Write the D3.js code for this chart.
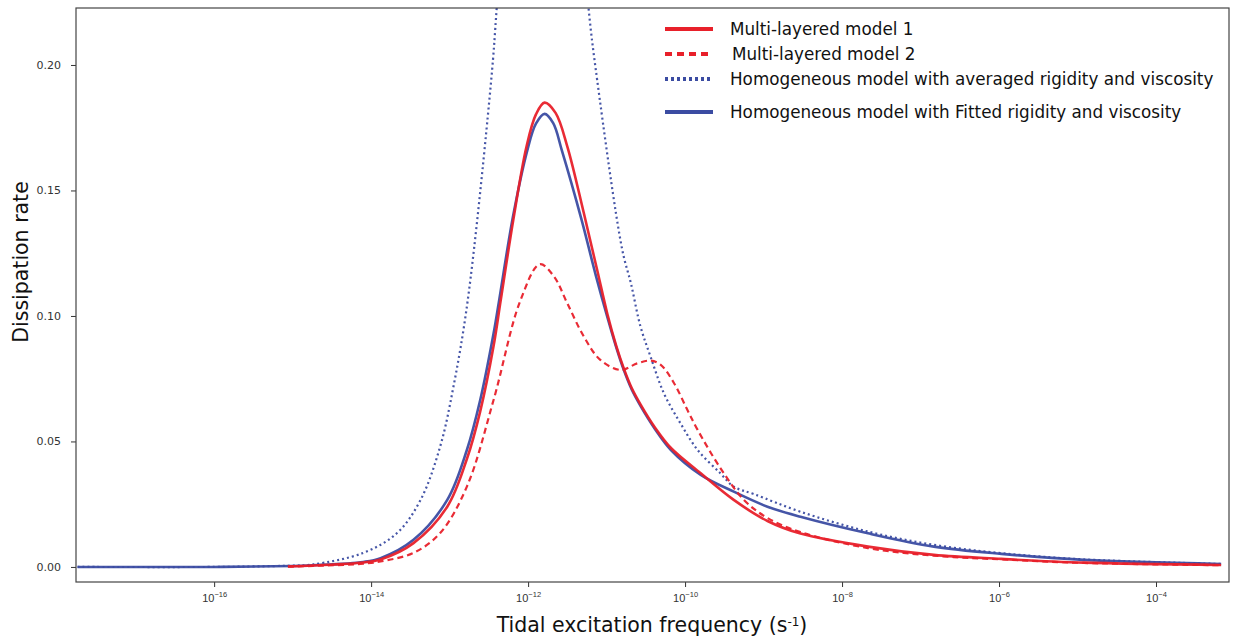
<!DOCTYPE html>
<html>
<head>
<meta charset="utf-8">
<script src="https://cdn.jsdelivr.net/npm/d3@7"></script>
<style>
  body { margin: 0; background: #fff; }
  svg { font-family: 'DejaVu Sans', sans-serif; }
</style>
</head>
<body>
<script>
// exponents (log10 of frequency) and dissipation rate for each curve
const model1Exp = [-15.06, -14.74, -14.10, -13.88, -13.46, -13.03, -12.78, -12.61, -12.44, -12.35, -12.19, -12.02, -11.90, -11.79, -11.65, -11.50, -11.29, -11.12, -10.99, -10.88, -10.78, -10.68, -10.57, -10.38, -10.18, -9.80, -9.38, -8.95, -8.53, -7.67, -6.83, -5.97, -4.92, -3.17];
const model1Val = [0.0002, 0.0006, 0.0018, 0.003, 0.0095, 0.024, 0.043, 0.062, 0.088, 0.106, 0.138, 0.1675, 0.1803, 0.185, 0.1809, 0.1675, 0.141, 0.1183, 0.1008, 0.0884, 0.079, 0.0713, 0.0649, 0.0554, 0.0474, 0.0373, 0.0267, 0.0183, 0.0133, 0.0081, 0.0048, 0.0032, 0.0017, 0.0008];

const model2Exp = [-15.06, -14.74, -14.10, -13.88, -13.46, -13.12, -12.78, -12.44, -12.10, -11.85, -11.67, -11.50, -11.29, -11.08, -10.82, -10.61, -10.44, -10.31, -10.14, -9.97, -9.84, -9.55, -9.25, -8.95, -8.53, -7.67, -6.83, -5.97, -4.92, -3.17];
const model2Val = [0.0001, 0.0004, 0.0013, 0.0022, 0.0056, 0.0135, 0.032, 0.0665, 0.106, 0.1206, 0.1157, 0.105, 0.0918, 0.0825, 0.0785, 0.0811, 0.0822, 0.0805, 0.0732, 0.0625, 0.0546, 0.0394, 0.0267, 0.0195, 0.0139, 0.0075, 0.0045, 0.003, 0.0016, 0.0007];

const avgExp = [-17.74, -16.0, -15.5, -15.04, -14.74, -14.10, -13.67, -13.37, -13.12, -12.95, -12.77, -12.47, -12.40, -12.2, -12.0, -11.8, -11.6, -11.4, -11.23, -11.12, -10.80, -10.69, -10.57, -10.44, -10.27, -10.06, -9.84, -9.55, -9.38, -9.12, -8.53, -7.67, -6.83, -5.97, -4.92, -3.17];
const avgVal = [0, 0, 0.0002, 0.0005, 0.001, 0.0056, 0.0135, 0.0267, 0.048, 0.072, 0.106, 0.194, 0.2227, 0.32, 0.40, 0.43, 0.40, 0.29, 0.2227, 0.194, 0.1263, 0.113, 0.096, 0.0838, 0.0692, 0.0573, 0.0466, 0.0373, 0.032, 0.029, 0.022, 0.0141, 0.0088, 0.0055, 0.003, 0.0012];

const fitExp = [-17.74, -16.0, -15.0, -14.74, -14.10, -13.88, -13.46, -13.03, -12.78, -12.61, -12.44, -12.37, -12.19, -12.01, -11.90, -11.79, -11.68, -11.57, -11.32, -11.14, -10.99, -10.88, -10.78, -10.68, -10.57, -10.38, -10.18, -9.80, -9.38, -8.95, -8.53, -7.67, -6.83, -5.97, -4.92, -3.17];
const fitVal = [0, 0, 0.0004, 0.0007, 0.002, 0.0035, 0.0108, 0.0267, 0.0466, 0.0665, 0.093, 0.106, 0.140, 0.166, 0.1766, 0.1805, 0.1768, 0.166, 0.1385, 0.1165, 0.0995, 0.0878, 0.0784, 0.0707, 0.0643, 0.0548, 0.0466, 0.0367, 0.030, 0.024, 0.020, 0.0134, 0.0081, 0.0052, 0.0028, 0.0012];

const xTickExp = [-16, -14, -12, -10, -8, -6, -4];
const yTicks = [0, 0.05, 0.10, 0.15, 0.20];

const legendLabels = ['Multi-layered model 1', 'Multi-layered model 2',
  'Homogeneous model with averaged rigidity and viscosity',
  'Homogeneous model with Fitted rigidity and viscosity'];

const red = '#e8202a';
const blue = '#3b4ca2';

const w = 1236, h = 639;
const padL = 76, padR = 1229, padT = 8, padB = 582;

const svg = d3.select('body').append('svg')
  .attr('width', w).attr('height', h);

const xScale = d3.scaleLog()
  .domain([Math.pow(10, -17.76), Math.pow(10, -3.07)])
  .range([padL, padR]);
const yScale = d3.scaleLinear()
  .domain([-0.006, 0.2227])
  .range([padB, padT]);

svg.append('clipPath').attr('id', 'plotClip')
  .append('rect')
  .attr('x', padL).attr('y', padT)
  .attr('width', padR - padL).attr('height', padB - padT);

const line = d3.line()
  .x((d) => xScale(Math.pow(10, d[0])))
  .y((d) => yScale(d[1]))
  .curve(d3.curveCatmullRom.alpha(0.5));

const series = [
  { exp: avgExp, val: avgVal, color: blue, width: 2.2, dash: '2,3' },
  { exp: fitExp, val: fitVal, color: blue, width: 2.6, dash: null },
  { exp: model2Exp, val: model2Val, color: red, width: 2.2, dash: '6,4' },
  { exp: model1Exp, val: model1Val, color: red, width: 2.6, dash: null }
];

const plot = svg.append('g').attr('clip-path', 'url(#plotClip)');
series.forEach((s) => {
  plot.append('path')
    .datum(s.exp.map((e, i) => [e, s.val[i]]))
    .attr('d', line)
    .attr('fill', 'none')
    .attr('stroke', s.color)
    .attr('stroke-width', s.width)
    .attr('stroke-dasharray', s.dash)
    .attr('opacity', 0.95);
});

//axes
const xAxis = d3.axisBottom(xScale)
  .tickValues(xTickExp.map((e) => Math.pow(10, e)))
  .tickSize(5)
  .tickSizeOuter(0)
  .tickFormat('');
const gx = svg.append('g')
  .attr('transform', `translate(0, ${padB})`)
  .call(xAxis);
gx.select('.domain').remove();
gx.selectAll('.tick line').attr('stroke', '#333');
gx.selectAll('.tick').each(function (d, i) {
  const t = d3.select(this).append('text')
    .attr('y', 20)
    .attr('fill', '#333')
    .attr('font-size', 11)
    .attr('text-anchor', 'middle');
  t.append('tspan').text('10');
  t.append('tspan').attr('dy', -5).attr('font-size', 7.5).text('\u2212' + Math.abs(xTickExp[i]));
});

const yAxis = d3.axisLeft(yScale)
  .tickValues(yTicks)
  .tickSize(5)
  .tickFormat(d3.format('.2f'));
const gy = svg.append('g')
  .attr('transform', `translate(${padL}, 0)`)
  .call(yAxis);
gy.select('.domain').remove();
gy.selectAll('.tick line').attr('stroke', '#333');
gy.selectAll('.tick text')
  .attr('font-size', 11)
  .attr('fill', '#333')
  .attr('font-family', 'DejaVu Sans')
  .attr('x', -15);

//frame
svg.append('rect')
  .attr('x', padL).attr('y', padT)
  .attr('width', padR - padL).attr('height', padB - padT)
  .attr('fill', 'none')
  .attr('stroke', '#444')
  .attr('stroke-width', 1.2);

//axis labels
const xl = svg.append('text')
  .attr('x', 652).attr('y', 632)
  .attr('text-anchor', 'middle')
  .attr('font-size', 20.5)
  .attr('fill', '#111');
xl.append('tspan').text('Tidal excitation frequency (s');
xl.append('tspan').attr('dy', -6).attr('font-size', 12).text('-1');
xl.append('tspan').attr('dy', 6).text(')');

svg.append('text')
  .attr('transform', 'translate(28, 262) rotate(-90)')
  .attr('text-anchor', 'middle')
  .attr('font-size', 20.5)
  .attr('fill', '#111')
  .text('Dissipation rate');

//legend
const legendRows = [
  { y: 29, color: red, dash: null },
  { y: 54, color: red, dash: '7,5' },
  { y: 79, color: blue, dash: '3,3' },
  { y: 112, color: blue, dash: null }
];
legendRows.forEach((r, i) => {
  svg.append('line')
    .attr('x1', 665).attr('x2', 713)
    .attr('y1', r.y).attr('y2', r.y)
    .attr('stroke', r.color)
    .attr('stroke-width', 4)
    .attr('stroke-dasharray', r.dash);
  svg.append('text')
    .attr('x', i === 1 ? 732 : 730)
    .attr('y', r.y + 6)
    .attr('font-size', 16.8)
    .attr('fill', '#111')
    .text(legendLabels[i]);
});
</script>
</body>
</html>
